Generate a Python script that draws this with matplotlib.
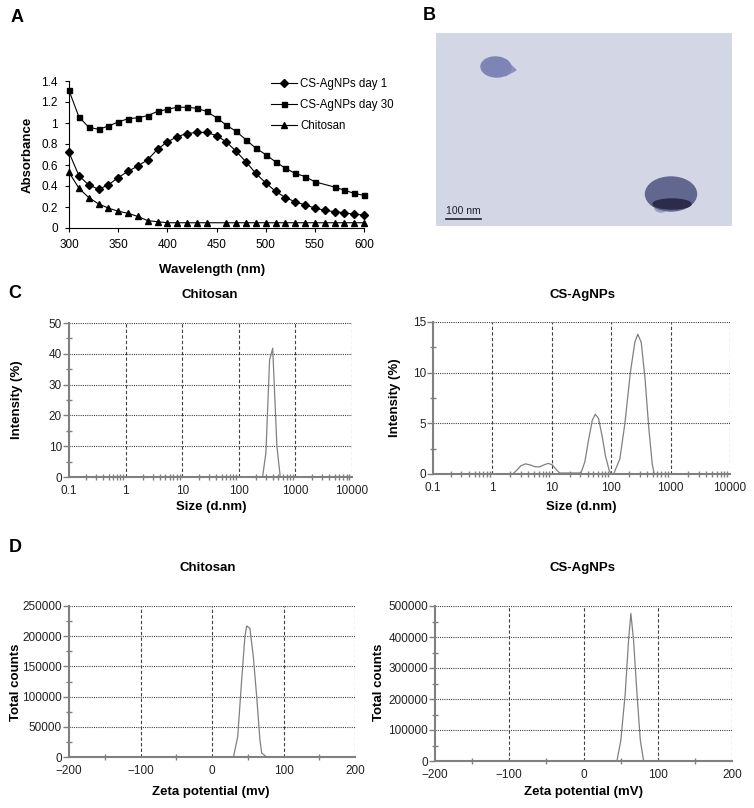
import numpy as np
import matplotlib
matplotlib.use("Agg")
import matplotlib.pyplot as plt
from matplotlib.patches import Ellipse, Polygon

plt.rcParams['font.family'] = ['Liberation Sans', 'DejaVu Sans']

# ---- Panel A: UV-vis spectra ----
wl = [300, 310, 320, 330, 340, 350, 360, 370, 380, 390, 400, 410, 420, 430, 440,
      450, 460, 470, 480, 490, 500, 510, 520, 530, 540, 550, 560, 570, 580, 590, 600]
day1 = [0.72, 0.50, 0.41, 0.37, 0.41, 0.48, 0.54, 0.59, 0.65, 0.75, 0.82, 0.87, 0.90, 0.91, 0.91,
        0.88, 0.82, 0.73, 0.63, 0.52, 0.43, 0.35, 0.29, 0.25, 0.22, 0.19, 0.17, 0.155, 0.145, 0.13, 0.125]
wl30 = [300, 310, 320, 330, 340, 350, 360, 370, 380, 390, 400, 410, 420, 430, 440,
        450, 460, 470, 480, 490, 500, 510, 520, 530, 540, 550, 570, 580, 590, 600]
day30 = [1.31, 1.06, 0.96, 0.94, 0.97, 1.01, 1.04, 1.05, 1.07, 1.11, 1.13, 1.15, 1.15, 1.14, 1.11,
         1.05, 0.98, 0.92, 0.84, 0.76, 0.70, 0.63, 0.57, 0.52, 0.49, 0.44, 0.39, 0.36, 0.33, 0.31]
wl_cs = [300, 310, 320, 330, 340, 350, 360, 370, 380, 390, 400, 410, 420, 430, 440,
         460, 470, 480, 490, 500, 510, 520, 530, 540, 550, 560, 570, 580, 590, 600]
chit = [0.53, 0.38, 0.29, 0.23, 0.19, 0.16, 0.14, 0.11, 0.07, 0.06, 0.05, 0.05, 0.05, 0.05, 0.05,
        0.05, 0.05, 0.05, 0.05, 0.05, 0.05, 0.05, 0.05, 0.05, 0.05, 0.05, 0.05, 0.05, 0.05, 0.05]

# ---- Panel C: DLS size distributions ----
size_chit = [0.1, 263, 301, 350, 397, 471, 540, 10000]
int_chit = [0, 0, 7.8, 38, 41.8, 10, 0, 0]
size_ag = [0.1, 2.2, 2.6, 3.0, 3.6, 4.3, 5.2, 6.2, 7.4, 8.7, 10.2, 12, 13.6, 31, 36, 42, 48, 54,
           61, 70, 80, 92, 100, 110, 140, 170, 210, 250, 280, 320, 370, 430, 490, 530, 10000]
int_ag = [0, 0, 0.4, 0.8, 1.0, 0.9, 0.72, 0.7, 0.9, 1.05, 0.9, 0.4, 0.1, 0.1, 1.2, 3.5, 5.3, 5.9,
          5.5, 3.8, 1.8, 0.4, 0.05, 0, 1.5, 5, 10, 13, 13.8, 13, 9.5, 4.5, 1, 0, 0]

# ---- Panel D: zeta potential ----
zeta_chit = [-200, 30, 36, 41.5, 46, 48.5, 53, 57.8, 62.5, 67, 69.5, 76.5, 200]
cnt_chit = [0, 0, 34000, 128000, 199000, 217000, 213000, 166000, 100000, 28600, 6600, 0, 0]
zeta_ag = [-200, 45, 50.3, 56.2, 60.7, 63.8, 67.4, 72, 76.5, 81, 200]
cnt_ag = [0, 0, 67000, 218000, 390000, 476000, 390000, 218000, 67000, 0, 0]

W, H = 754, 808
fig = plt.figure(figsize=(W / 100, H / 100), dpi=100)


def box(l, t, r, b):
    return [l / W, 1 - b / H, (r - l) / W, (b - t) / H]


def ftext(x, y, s, **kw):
    fig.text(x / W, 1 - y / H, s, ha='center', va='center', **kw)


# panel letters
for (x, y, s) in [(17, 17, 'A'), (429, 16, 'B'), (15, 293, 'C'), (15, 548, 'D')]:
    ftext(x, y, s, fontsize=13, fontweight='bold')

# ---------- A ----------
ax = fig.add_axes(box(69, 81, 364, 228))
ax.plot(wl, day1, 'k-', marker='D', ms=3.6, lw=0.8, label='CS-AgNPs day 1')
ax.plot(wl30, day30, 'k-', marker='s', ms=3.6, lw=0.8, label='CS-AgNPs day 30')
ax.plot(wl_cs, chit, 'k-', marker='^', ms=4.3, lw=0.8, label='Chitosan')
ax.set_xlim(300, 600)
ax.set_ylim(0, 1.4)
ax.set_xticks(np.arange(300, 601, 50))
ax.set_yticks(np.arange(0, 1.41, 0.2))
ax.set_yticklabels(['0', '0.2', '0.4', '0.6', '0.8', '1', '1.2', '1.4'])
ax.spines['top'].set_visible(False)
ax.spines['right'].set_visible(False)
for s in ['left', 'bottom']:
    ax.spines[s].set_linewidth(0.8)
ax.tick_params(labelsize=8.5, length=3, width=0.8, pad=5)
for ln in ax.lines:
    ln.set_clip_on(False)
fig.legend(loc='upper left', bbox_to_anchor=(261 / W, 1 - 68 / H), frameon=False,
           fontsize=8.3, handlelength=2.2, handletextpad=0.3, labelspacing=0.75)
ftext(212, 270, 'Wavelength (nm)', fontsize=9.5, fontweight='bold')
ftext(28, 155, 'Absorbance', fontsize=9.5, fontweight='bold', rotation=90)

# ---------- B (TEM image) ----------
axb = fig.add_axes(box(436, 33, 732, 226))
axb.set_xlim(436, 732)
axb.set_ylim(226, 33)
axb.set_facecolor('#d3d6e5')
for s in axb.spines.values():
    s.set_visible(False)
axb.set_xticks([])
axb.set_yticks([])
# small teardrop particle
axb.add_patch(Polygon([(505, 60), (516, 70), (505, 76)], closed=True, color='#8a8fbe'))
axb.add_patch(Ellipse((496, 67), 30, 20, angle=3, color='#7f84b6'))
# large particle
axb.add_patch(Ellipse((661, 208), 12, 8, color='#9a9dbf'))
axb.add_patch(Ellipse((671, 194), 51, 34, color='#62678f'))
axb.add_patch(Ellipse((672, 204), 38, 10, color='#2a2c48'))
axb.plot([446, 481], [219, 219], color='#202030', lw=1.2)
axb.text(463.5, 211, '100 nm', fontsize=7.5, ha='center', va='center', color='#202030')


# ---------- C / D helpers ----------
def dist_axes(rect, xs, ys, xlim, ylim, yticks, xticks, xlabels, log=False, ystep_minor=None,
              xminor=None):
    a = fig.add_axes(rect)
    a.plot(xs, ys, color='#808080', lw=0.9)
    if log:
        a.set_xscale('log')
    a.set_xlim(*xlim)
    a.set_ylim(*ylim)
    a.set_xticks(xticks)
    a.set_xticklabels(xlabels)
    a.set_yticks(yticks)
    a.set_yticklabels([str(int(v)) for v in yticks])
    if xminor is not None:
        a.set_xticks(xminor, minor=True)
    if ystep_minor is not None:
        a.set_yticks(np.arange(ylim[0], ylim[1] + 1, ystep_minor), minor=True)
    for v in xticks[1:]:
        a.axvline(v, color='#404040', lw=0.8, ls=(0, (3, 2)), zorder=0)
    for v in yticks[1:]:
        a.axhline(v, color='#404040', lw=0.8, ls=(0, (1, 1)), zorder=0)
    a.spines['top'].set_visible(False)
    a.spines['right'].set_visible(False)
    for s in ['left', 'bottom']:
        a.spines[s].set_color('#808080')
        a.spines[s].set_linewidth(1.5)
    a.tick_params(which='both', direction='inout', color='#808080', width=1, labelsize=8.5,
                  labelcolor='#222222')
    a.tick_params(which='minor', length=5)
    a.tick_params(axis='x', which='major', length=0, pad=6)
    a.tick_params(axis='y', which='major', length=4, direction='out', pad=1)
    return a


dec = [0.1, 1, 10, 100, 1000, 10000]
declab = ['0.1', '1', '10', '100', '1000', '10000']
logminor = [m * d for d in [0.1, 1, 10, 100, 1000] for m in range(2, 10)]

dist_axes(box(69, 323, 352, 477), size_chit, int_chit, (0.1, 10000), (0, 50),
          [0, 10, 20, 30, 40, 50], dec, declab, log=True, ystep_minor=5, xminor=logminor)
ftext(210, 295, 'Chitosan', fontsize=9.5, fontweight='bold')
ftext(211, 507, 'Size (d.nm)', fontsize=9.5, fontweight='bold')
ftext(17, 400, 'Intensity (%)', fontsize=9.5, fontweight='bold', rotation=90)

dist_axes(box(433, 322, 730, 474), size_ag, int_ag, (0.1, 10000), (0, 15),
          [0, 5, 10, 15], dec, declab, log=True, ystep_minor=2.5, xminor=logminor)
ftext(583, 295, 'CS-AgNPs', fontsize=9.5, fontweight='bold')
ftext(581, 507, 'Size (d.nm)', fontsize=9.5, fontweight='bold')
ftext(395, 398, 'Intensity (%)', fontsize=9.5, fontweight='bold', rotation=90)

zt = [-200, -100, 0, 100, 200]
ztl = ['\u2212200', '\u2212100', '0', '100', '200']
zminor = [-150, -50, 50, 150]

dist_axes(box(69, 606, 355, 757), zeta_chit, cnt_chit, (-200, 200), (0, 250000),
          [0, 50000, 100000, 150000, 200000, 250000], zt, ztl, ystep_minor=25000, xminor=zminor)
ftext(208, 568, 'Chitosan', fontsize=9.5, fontweight='bold')
ftext(211, 792, 'Zeta potential (mv)', fontsize=9.5, fontweight='bold')
ftext(16, 682, 'Total counts', fontsize=9.5, fontweight='bold', rotation=90)

dist_axes(box(435, 606, 732, 761), zeta_ag, cnt_ag, (-200, 200), (0, 500000),
          [0, 100000, 200000, 300000, 400000, 500000], zt, ztl, ystep_minor=50000, xminor=zminor)
ftext(583, 568, 'CS-AgNPs', fontsize=9.5, fontweight='bold')
ftext(583, 792, 'Zeta potential (mV)', fontsize=9.5, fontweight='bold')
ftext(379, 682, 'Total counts', fontsize=9.5, fontweight='bold', rotation=90)

fig.savefig('out.png', dpi=100)
